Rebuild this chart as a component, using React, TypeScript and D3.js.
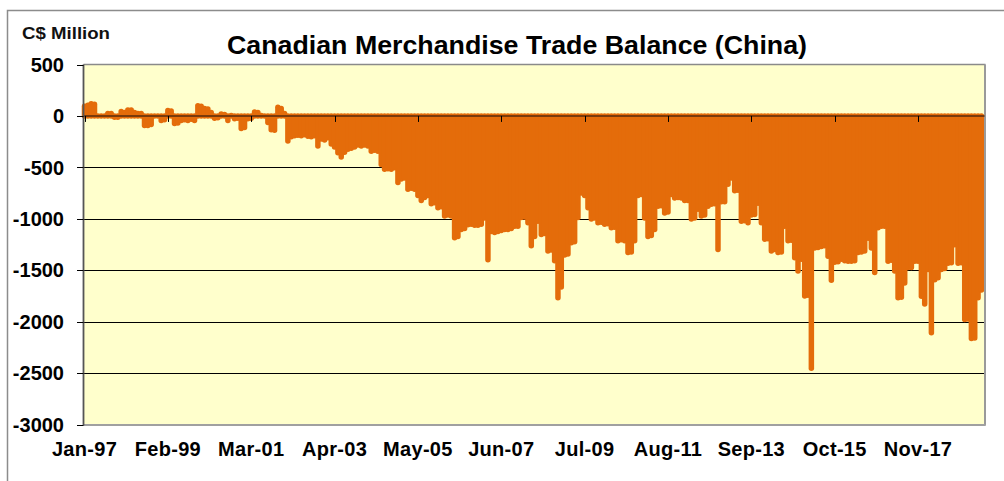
import React from 'react';
import * as d3 from 'd3';

// Monthly trade balance, C$ million, Jan-1997 .. Jun-2019
const startLabel = 'Jan-97';
const values: number[] = [
  // 1997
  120, 130, 145, 140, 20, 10, -25, 50, 50, -40, -40, 70,
  // 1998
  60, 85, 85, 60, 50, 50, -120, -120, -110, -15, -20, -70,
  // 1999
  -65, 80, 75, -100, -95, -70, -65, -70, -60, -70, 125, 120,
  // 2000
  100, 95, 60, -50, -45, 45, 40, -70, 30, -55, -50, -150,
  // 2001
  -140, -55, -50, 65, 60, 30, 25, -90, -160, -165, 110, 100,
  // 2002
  50, -270, -230, -220, -215, -220, -210, -225, -230, -220, -320, -250,
  // 2003
  -260, -240, -300, -330, -385, -425, -380, -350, -340, -330, -310, -320,
  // 2004
  -310, -320, -370, -360, -370, -500, -545, -540, -545, -530, -675, -640,
  // 2005
  -630, -740, -730, -740, -800, -850, -820, -800, -880, -870, -920, -910,
  // 2006
  -1000, -990, -1000, -1210, -1200, -1130, -1120, -1085, -1080, -1090, -1090, -1080,
  // 2007
  -1020, -1425, -1150, -1160, -1150, -1140, -1130, -1130, -1120, -1100, -1100, -1015,
  // 2008
  -1010, -1065, -1290, -1200, -1050, -1180, -1170, -1340, -1330, -1435, -1795, -1690,
  // 2009
  -1380, -1370, -1260, -1250, -1015, -775, -800, -920, -1030, -1020, -1065, -1060,
  // 2010
  -1080, -1075, -1115, -1110, -1240, -1230, -1240, -1355, -1350, -1240, -800, -790,
  // 2011
  -1020, -1200, -1190, -1130, -905, -900, -970, -960, -790, -825, -820, -825,
  // 2012
  -850, -850, -1030, -1020, -935, -1000, -990, -905, -885, -880, -1325, -860,
  // 2013
  -860, -690, -630, -755, -750, -1050, -1045, -1065, -990, -985, -875, -1065,
  // 2014
  -1225, -1220, -1340, -1325, -1355, -1350, -1100, -1240, -1235, -1405, -1535, -1420,
  // 2015
  -1777, -1770, -2480, -1310, -1305, -1295, -1290, -1390, -1625, -1450, -1445, -1420,
  // 2016
  -1435, -1440, -1440, -1435, -1355, -1350, -1340, -1215, -1310, -1550, -1115, -1100,
  // 2017
  -1100, -1440, -1430, -1535, -1795, -1790, -1650, -1500, -1500, -1440, -1440, -1780,
  // 2018
  -1855, -1520, -2135, -1620, -1600, -1520, -1510, -1460, -1455, -1280, -1460, -1455,
  // 2019
  -2005, -2000, -2190, -2185, -1795, -1720,
];

const xTickLabels = ['Jan-97', 'Feb-99', 'Mar-01', 'Apr-03', 'May-05', 'Jun-07', 'Jul-09', 'Aug-11', 'Sep-13', 'Oct-15', 'Nov-17'];
const xTickIndex = [0, 25, 50, 75, 100, 125, 150, 175, 200, 225, 250];
const yTicks = [500, 0, -500, -1000, -1500, -2000, -2500, -3000];
const gridValues = [-500, -1000, -1500, -2000, -2500];

const FONT = '"Liberation Sans", Arial, sans-serif';

export default function App() {
  const W = 1004, H = 481;
  const left = 83.5, right = 984.5, top = 64.5, bottom = 424.5;
  const x = d3.scaleLinear().domain([0, values.length - 1]).range([84.5, 981.4]);
  const y = d3.scaleLinear().domain([-3000, 500]).range([bottom, top]);
  const barW = 5.5;
  const cap = barW / 2;
  const y0 = y(0);

  return (
    <svg width={W} height={H} style={{ position: 'absolute', left: 0, top: 0, background: '#fff' }} data-start={startLabel}>
      <rect x={0} y={0} width={W} height={H} fill="#ffffff" />
      {/* outer frame */}
      <rect x={7.5} y={10.5} width={1200} height={700} fill="none" stroke="#8c8c8c" strokeWidth={1.5} />
      {/* plot area */}
      <rect x={left} y={top} width={right - left} height={bottom - top} fill="#FFFFCC" />
      {gridValues.map((g) => (
        <line key={g} x1={left} x2={right} y1={Math.round(y(g)) + 0.5} y2={Math.round(y(g)) + 0.5} stroke="#000" strokeWidth={1} />
      ))}
      {/* bars */}
      <g stroke="#E46C0A" strokeWidth={barW} strokeLinecap="round">
        {values.map((v, i) => {
          const yv = y(v);
          let y2: number;
          if (v < 0) y2 = Math.max(y0, yv - cap);
          else y2 = Math.min(y0, yv + cap);
          return <line key={i} x1={x(i)} x2={x(i)} y1={y0} y2={y2} />;
        })}
      </g>
      {/* plot border */}
      <line x1={left} x2={right + 1} y1={top} y2={top} stroke="#8a8a8a" strokeWidth={1.6} />
      <line x1={right + 0.5} x2={right + 0.5} y1={top} y2={bottom + 1} stroke="#9a9a9a" strokeWidth={2} />
      <line x1={left} x2={right + 1} y1={bottom + 0.5} y2={bottom + 0.5} stroke="#a0a0a0" strokeWidth={2} />
      {/* zero line */}
      <line x1={left} x2={right} y1={y0} y2={y0} stroke="#7a3b0c" strokeWidth={2} />
      {/* x ticks */}
      {xTickIndex.map((ti) => (
        <line key={ti} x1={Math.round(x(ti)) + 0.5} x2={Math.round(x(ti)) + 0.5} y1={y0} y2={y0 + 6} stroke="#000" strokeWidth={1} />
      ))}
      {/* y axis */}
      <line x1={left} x2={left} y1={top} y2={bottom + 1} stroke="#555" strokeWidth={1.8} />
      {yTicks.map((t) => (
        <g key={t}>
          <line x1={77} x2={left} y1={Math.round(y(t)) + 0.5} y2={Math.round(y(t)) + 0.5} stroke="#000" strokeWidth={1} />
          <text x={64} y={y(t)} dy="0.36em" textAnchor="end" fontFamily={FONT} fontWeight="bold" fontSize={20} fill="#000">
            {t}
          </text>
        </g>
      ))}
      {/* x labels */}
      {xTickIndex.map((ti, k) => (
        <text key={ti} x={x(ti)} y={456} textAnchor="middle" fontFamily={FONT} fontWeight="bold" fontSize={20} letterSpacing={0.3} fill="#000">
          {xTickLabels[k]}
        </text>
      ))}
      {/* title */}
      <text x={517} y={54} textAnchor="middle" fontFamily={FONT} fontWeight="bold" fontSize={25} textLength={580} lengthAdjust="spacingAndGlyphs" fill="#000">
        Canadian Merchandise Trade Balance (China)
      </text>
      <text x={22} y={38.5} fontFamily={FONT} fontWeight="bold" fontSize={17} textLength={88} lengthAdjust="spacingAndGlyphs" fill="#111">
        C$ Million
      </text>
    </svg>
  );
}
